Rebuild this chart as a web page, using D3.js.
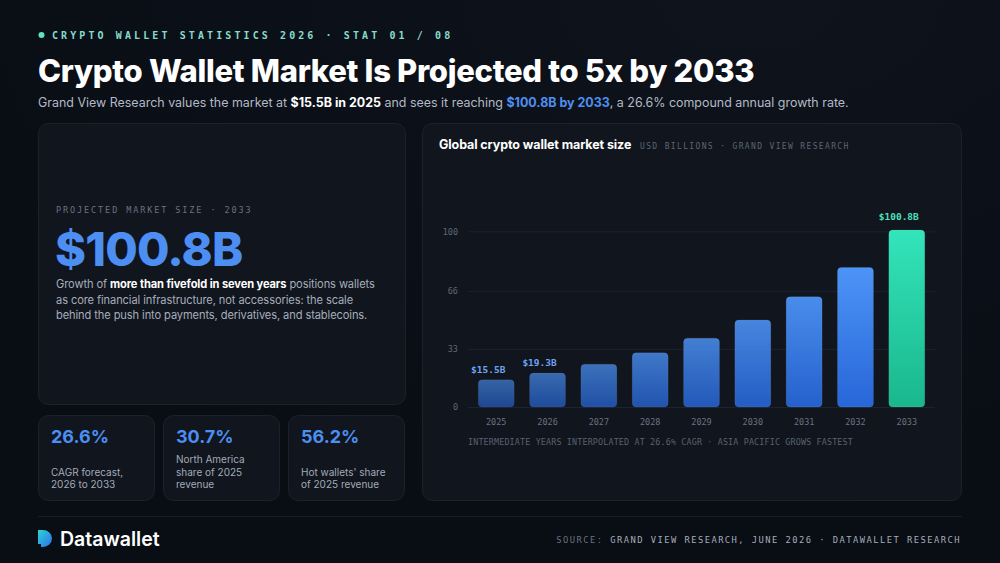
<!DOCTYPE html>
<html>
<head>
<meta charset="utf-8">
<script src="https://cdn.jsdelivr.net/npm/d3@7"></script>
<style>
  html, body { margin: 0; padding: 0; background: #0a0e16; }
  svg { display: block; }
</style>
</head>
<body>
<svg id="chart" width="1000" height="563"></svg>
<script>
// ---------- DATA ----------
const years = ["2025", "2026", "2027", "2028", "2029", "2030", "2031", "2032", "2033"];
const marketSize = [15.5, 19.3, 24.4, 30.9, 39.2, 49.6, 62.8, 79.5, 100.8];
const valueLabels = ["$15.5B", "$19.3B", "", "", "", "", "", "", "$100.8B"];
const yTicks = [0, 33, 66, 100];
const statValues = ["26.6%", "30.7%", "56.2%"];
const statLabels = [["CAGR forecast,", "2026 to 2033"], ["North America", "share of 2025", "revenue"], ["Hot wallets' share", "of 2025 revenue"]];

const SANS = "Inter, 'Noto Sans', sans-serif";
const MONO = "'DejaVu Sans Mono', 'Liberation Mono', monospace";

const svg = d3.select("#chart");
const defs = svg.append("defs");

// background
const bg = defs.append("radialGradient").attr("id", "bgGrad").attr("cx", "75%").attr("cy", "0%").attr("r", "90%");
bg.append("stop").attr("offset", "0%").attr("stop-color", "#0e131c");
bg.append("stop").attr("offset", "100%").attr("stop-color", "#090d14");
svg.append("rect").attr("width", 1000).attr("height", 563).attr("fill", "url(#bgGrad)");

// ---------- HEADER ----------
svg.append("circle").attr("cx", 41.5).attr("cy", 35).attr("r", 3).attr("fill", "#5fe3c6");
svg.append("text").attr("x", 52).attr("y", 39)
  .attr("font-family", MONO).attr("font-size", 10).attr("font-weight", 700)
  .attr("letter-spacing", 3.1).attr("fill", "#86dccb")
  .text("CRYPTO WALLET STATISTICS 2026 · STAT 01 / 08");

svg.append("text").attr("x", 38).attr("y", 82)
  .attr("font-family", SANS).attr("font-size", 31).attr("font-weight", 800)
  .attr("letter-spacing", -0.3).attr("fill", "#ffffff")
  .text("Crypto Wallet Market Is Projected to 5x by 2033");

const sub = svg.append("text").attr("x", 38).attr("y", 107)
  .attr("font-family", SANS).attr("font-size", 12.45).attr("fill", "#b3bac6");
sub.append("tspan").text("Grand View Research values the market at ");
sub.append("tspan").attr("font-weight", 700).attr("fill", "#ffffff").text("$15.5B in 2025");
sub.append("tspan").text(" and sees it reaching ");
sub.append("tspan").attr("font-weight", 700).attr("fill", "#4f8ff0").text("$100.8B by 2033");
sub.append("tspan").text(", a 26.6% compound annual growth rate.");

// ---------- CARDS ----------
function card(x, y, w, h) {
  svg.append("rect").attr("x", x + 0.5).attr("y", y + 0.5).attr("width", w).attr("height", h)
    .attr("rx", 10).attr("fill", "#10151e").attr("stroke", "#1c222d").attr("stroke-width", 1);
}
card(38, 123, 367, 281);
card(38, 415, 116, 85);
card(163, 415, 116, 85);
card(288, 415, 116, 85);
card(422, 123, 539, 377);

// left big card
svg.append("text").attr("x", 56).attr("y", 213)
  .attr("font-family", MONO).attr("font-size", 8.5)
  .attr("letter-spacing", 1.9).attr("fill", "#6a727e")
  .text("PROJECTED MARKET SIZE · 2033");
svg.append("text").attr("x", 55).attr("y", 266)
  .attr("font-family", SANS).attr("font-size", 47).attr("font-weight", 800)
  .attr("letter-spacing", -0.8).attr("fill", "#4c8ef2")
  .text("$100.8B");
const para = [
  [["Growth of ", false], ["more than fivefold in seven years", true], [" positions wallets", false]],
  [["as core financial infrastructure, not accessories: the scale", false]],
  [["behind the push into payments, derivatives, and stablecoins.", false]]
];
para.forEach((line, i) => {
  const t = svg.append("text").attr("x", 56).attr("y", 288 + i * 15.5)
    .attr("font-family", SANS).attr("font-size", 11.1).attr("letter-spacing", -0.1).attr("fill", "#a7aebb");
  line.forEach(([s, b]) => {
    const ts = t.append("tspan").text(s);
    if (b) ts.attr("font-weight", 700).attr("fill", "#ffffff");
  });
});

// stat cards
const statX = [51, 176, 301];
statValues.forEach((v, i) => {
  svg.append("text").attr("x", statX[i]).attr("y", 443)
    .attr("font-family", SANS).attr("font-size", 18).attr("font-weight", 700)
    .attr("fill", "#4c8ef2").text(v);
  const lines = statLabels[i];
  lines.forEach((l, j) => {
    svg.append("text").attr("x", statX[i]).attr("y", 488 - (lines.length - 1 - j) * 12.3)
      .attr("font-family", SANS).attr("font-size", 10).attr("fill", "#a3abb7").text(l);
  });
});

// ---------- CHART ----------
svg.append("text").attr("x", 439).attr("y", 149)
  .attr("font-family", SANS).attr("font-size", 12.5).attr("font-weight", 700)
  .attr("letter-spacing", -0.1).attr("fill", "#ffffff")
  .text("Global crypto wallet market size");
svg.append("text").attr("x", 640).attr("y", 149)
  .attr("font-family", MONO).attr("font-size", 8).attr("letter-spacing", 1.35).attr("fill", "#5d6672")
  .text("USD BILLIONS · GRAND VIEW RESEARCH");

const plot = { left: 468, right: 935, top: 230, bottom: 407 };
const x = d3.scaleBand().domain(years).range([plot.left, plot.right]).paddingInner(0.3).paddingOuter(0.2);
const y = d3.scaleLinear().domain([0, d3.max(marketSize)]).range([plot.bottom, plot.top]);

// gridlines
const yAxis = d3.axisLeft(y).tickValues(yTicks).tickSize(-(plot.right - plot.left)).tickPadding(10);
const gy = svg.append("g").attr("transform", `translate(${plot.left},0)`).call(yAxis);
gy.select(".domain").remove();
gy.selectAll(".tick line").attr("stroke", "#1b2230").attr("stroke-width", 1);
gy.selectAll(".tick text").attr("font-family", MONO).attr("font-size", 8.5).attr("fill", "#5f6874");

// gradients
const blue = defs.append("linearGradient").attr("id", "blueGrad").attr("x1", 0).attr("y1", 0).attr("x2", 0).attr("y2", 1);
blue.append("stop").attr("offset", "0%").attr("stop-color", "#4d94f7");
blue.append("stop").attr("offset", "100%").attr("stop-color", "#2766d8");
const teal = defs.append("linearGradient").attr("id", "tealGrad").attr("x1", 0).attr("y1", 0).attr("x2", 0).attr("y2", 1);
teal.append("stop").attr("offset", "0%").attr("stop-color", "#33e4ba");
teal.append("stop").attr("offset", "100%").attr("stop-color", "#1ab78d");

const op = d3.scaleLinear().domain([0, years.length - 2]).range([0.62, 1]);
const last = years.length - 1;

svg.append("g").selectAll("rect").data(marketSize).join("rect")
  .attr("x", (d, i) => x(years[i]))
  .attr("y", d => y(d))
  .attr("width", x.bandwidth())
  .attr("height", d => y(0) - y(d))
  .attr("rx", 4)
  .attr("fill", (d, i) => i === last ? "url(#tealGrad)" : "url(#blueGrad)")
  .attr("opacity", (d, i) => i === last ? 1 : op(i))
  .attr("stroke", "rgba(255,255,255,0.08)");

svg.append("g").selectAll("text").data(marketSize).join("text")
  .attr("x", (d, i) => x(years[i]) + x.bandwidth() / 2 - 8)
  .attr("y", (d, i) => y(d) - (i === last ? 10 : 7))
  .attr("text-anchor", "middle")
  .attr("font-family", MONO).attr("font-size", 9.5).attr("font-weight", 700)
  .attr("fill", (d, i) => i === last ? "#4fe0bd" : "#6ea3f2")
  .text((d, i) => valueLabels[i]);

const xAxis = d3.axisBottom(x).tickSize(0).tickPadding(12);
const gx = svg.append("g").attr("transform", `translate(0,${plot.bottom})`).call(xAxis);
gx.select(".domain").remove();
gx.selectAll(".tick text").attr("font-family", MONO).attr("font-size", 8.5).attr("fill", "#6a7380");

svg.append("text").attr("x", 468).attr("y", 445)
  .attr("font-family", MONO).attr("font-size", 8.4).attr("letter-spacing", 0.16).attr("fill", "#59626e")
  .text("INTERMEDIATE YEARS INTERPOLATED AT 26.6% CAGR · ASIA PACIFIC GROWS FASTEST");

// ---------- FOOTER ----------
svg.append("line").attr("x1", 38).attr("x2", 962).attr("y1", 516.5).attr("y2", 516.5)
  .attr("stroke", "#171d27").attr("stroke-width", 1);

const logoG = defs.append("linearGradient").attr("id", "logoGrad").attr("x1", 0).attr("y1", 0).attr("x2", 1).attr("y2", 1);
logoG.append("stop").attr("offset", "0%").attr("stop-color", "#2bd4d0");
logoG.append("stop").attr("offset", "100%").attr("stop-color", "#2f6ef0");
svg.append("path")
  .attr("d", "M38,530 h5 a9,8.5 0 0 1 0,17 h-2 v-3 h-3 z")
  .attr("fill", "url(#logoGrad)");
svg.append("text").attr("x", 60).attr("y", 546)
  .attr("font-family", SANS).attr("font-size", 19.5).attr("font-weight", 600)
  .attr("letter-spacing", 0).attr("fill", "#ffffff").text("Datawallet");

const src = svg.append("text").attr("x", 961).attr("y", 543).attr("text-anchor", "end")
  .attr("font-family", MONO).attr("font-size", 8.8).attr("letter-spacing", 1.45).attr("fill", "#a4acb8");
src.append("tspan").attr("fill", "#6a727e").text("SOURCE: ");
src.append("tspan").text("GRAND VIEW RESEARCH, JUNE 2026 · DATAWALLET RESEARCH");
</script>
</body>
</html>
